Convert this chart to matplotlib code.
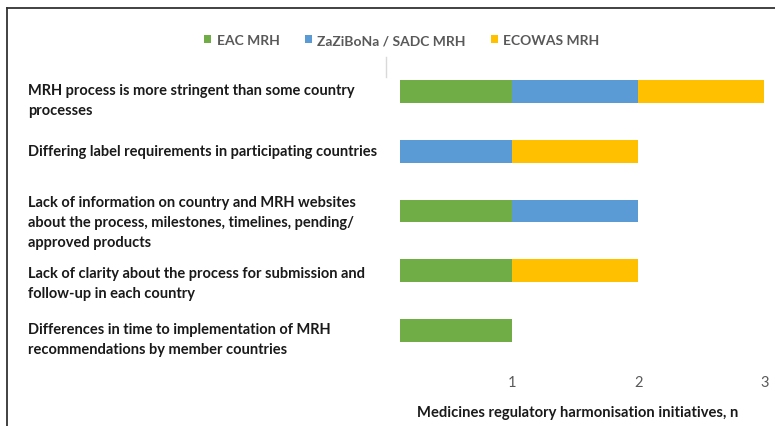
import matplotlib
matplotlib.use("Agg")
import matplotlib.pyplot as plt
from matplotlib.lines import Line2D
import numpy as np

# Obstacles (top to bottom) and counts per MRH initiative
labels = [
    "MRH process is more stringent than some country\nprocesses",
    "Differing label requirements in participating countries",
    "Lack of information on country and MRH websites\nabout the process, milestones, timelines, pending/\napproved products",
    "Lack of clarity about the process for submission and\nfollow-up in each country",
    "Differences in time to implementation of MRH\nrecommendations by member countries",
]
eac = [1, 0, 1, 1, 1]
zazibona = [1, 1, 1, 0, 0]
ecowas = [1, 1, 0, 1, 0]
series_names = ["EAC MRH", "ZaZiBoNa / SADC MRH", "ECOWAS MRH"]
colors = ["#70AD47", "#5B9BD5", "#FFC000"]
xticks = [1, 2, 3]

# small vertical nudges (pixels) for the wrapped labels
label_nudge = [9, 7, 16, 5, 8]

plt.rcParams['font.family'] = ['Lato', 'DejaVu Sans']

W, H = 775, 427
fig = plt.figure(figsize=(W / 100, H / 100), dpi=100)
ax = fig.add_axes([400 / W, 66 / H, 372 / W, 298 / H])

y = np.arange(len(labels))
left = np.zeros(len(labels))
for vals, name, c in zip([eac, zazibona, ecowas], series_names, colors):
    ax.barh(y, vals, left=left, height=0.38, color=c, label=name)
    left = left + np.array(vals)

ax.set_ylim(len(labels) - 0.5, -0.5)
ax.set_xlim(0.111, 3.06)
ax.set_yticks([])
ax.set_xticks(xticks)
ax.set_xticklabels([str(t) for t in xticks])
ax.tick_params(axis='x', length=0, pad=11, labelsize=10.5, labelcolor='#595959')
for s in ax.spines.values():
    s.set_visible(False)

ax.set_xlabel("Medicines regulatory harmonisation initiatives, n",
              fontsize=10.6, fontweight='bold', color='#1a1a1a')
ax.xaxis.set_label_coords(0.477, -0.152)

# category labels, left aligned at the figure's left
for i, lab in enumerate(labels):
    ax.annotate(lab, xy=(28 / W, i), xycoords=(fig.transFigure, ax.transData),
                xytext=(0, label_nudge[i]), textcoords='offset pixels',
                ha='left', va='top', fontsize=10.5, fontweight='bold',
                color='#1a1a1a', linespacing=1.55)

leg = fig.legend(loc='center', bbox_to_anchor=(402 / W, 1 - 41 / H), ncol=3,
                 frameon=False, handlelength=0.5, handleheight=0.5,
                 handletextpad=0.4, columnspacing=1.8, fontsize=10.0)
for t in leg.get_texts():
    t.set_color('#595959')
    t.set_fontweight('bold')

# faint remnant of the category axis and the outer frame
fig.add_artist(Line2D([386 / W, 386 / W], [1 - 58 / H, 1 - 78 / H], color='#d9d9d9', lw=1))
fig.add_artist(Line2D([7 / W, 1], [1 - 9 / H, 1 - 9 / H], color='#333333', lw=1.3))
fig.add_artist(Line2D([7 / W, 7 / W], [0, 1 - 9 / H], color='#333333', lw=1.3))

fig.savefig("out.png", dpi=100)
